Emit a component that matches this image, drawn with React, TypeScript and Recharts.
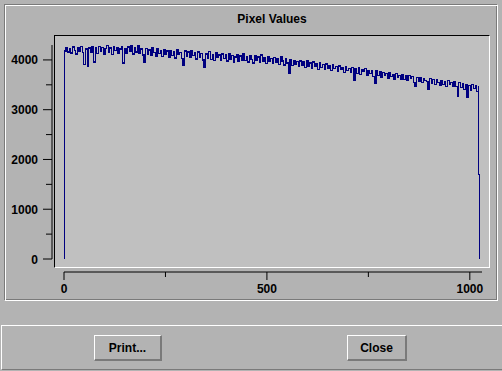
import React from "react";
import { LineChart, Line, XAxis, YAxis } from "recharts";

// pixel profile (one sample every 4 columns)
const leadColumns = [0];
const leadValues = [0];
const sampleStep = 4;
const firstSampleColumn = 1;
const sampleValues = [
  4180, 4250, 4160, 4230, 4140, 4260, 4190, 4120, 4240, 4170, 4270, 4150, 3910, 4220, 3880, 4240,
  4150, 4260, 3960, 4240, 4130, 4270, 4180, 4250, 4120, 4230, 4290, 4160, 4240, 4110, 4260, 4190,
  4250, 4140, 4220, 4270, 3940, 4230, 4130, 4260, 4170, 4300, 4120, 4240, 4160, 4280, 4140, 4220,
  4100, 3960, 4230, 4120, 4200, 4090, 4250, 4150, 4080, 4220, 4130, 4190, 4070, 4210, 4110, 4180,
  4060, 4190, 4090, 4170, 4040, 4200, 4110, 4150, 4030, 3900, 4180, 4070, 4160, 4050, 4190, 4090,
  4140, 4020, 4160, 4060, 4130, 4000, 3840, 4120, 4040, 4170, 4010, 4110, 3990, 4150, 4050, 4100,
  3990, 4120, 4030, 4100, 3980, 4130, 4010, 4090, 3960, 4060, 4110, 3970, 4080, 4000, 4120, 3990,
  4070, 3960, 4090, 4010, 3940, 4080, 3990, 4060, 3950, 4100, 3980, 4040, 3930, 4070, 3970, 4030,
  3940, 4050, 3960, 4030, 3910, 4060, 3980, 3900, 4020, 3940, 3720, 4000, 3890, 3990, 3920, 3970,
  3870, 3980, 3900, 3960, 3850, 3990, 3880, 3940, 3830, 3960, 3860, 3920, 3810, 3950, 3840, 3910,
  3800, 3920, 3830, 3890, 3780, 3910, 3820, 3870, 3760, 3880, 3800, 3850, 3740, 3870, 3790, 3830,
  3740, 3850, 3580, 3820, 3730, 3840, 3700, 3800, 3760, 3820, 3690, 3790, 3720, 3780, 3670, 3520,
  3780, 3680, 3760, 3650, 3750, 3690, 3730, 3620, 3740, 3660, 3710, 3600, 3720, 3650, 3690, 3610,
  3700, 3600, 3680, 3580, 3690, 3620, 3660, 3550, 3460, 3650, 3570, 3640, 3540, 3630, 3590, 3560,
  3400, 3620, 3530, 3600, 3500, 3610, 3540, 3480, 3590, 3510, 3570, 3470, 3580, 3500, 3550, 3460,
  3560, 3470, 3260, 3540, 3450, 3520, 3400, 3510, 3240, 3490, 3380, 3500, 3420, 3480, 3360, 3470,
];
const tailColumns = [1022, 1023];
const tailValues = [1700, 0];

const xTicks = [0, 250, 500, 750, 1000];
const yTicks = [0, 500, 1000, 1500, 2000, 2500, 3000, 3500, 4000];

const profile = [
  ...leadColumns.map((x, i) => ({ x, v: leadValues[i] })),
  ...sampleValues.map((v, i) => ({ x: firstSampleColumn + i * sampleStep, v })),
  ...tailColumns.map((x, i) => ({ x, v: tailValues[i] })),
];

const BG = "#b3b3b3";
const PLOT_BG = "#c0c0c0";
const DARK = "#7a7a7a";
const FONT = "'Liberation Sans', Arial, Helvetica, sans-serif";

const XTick = (props: any) => {
  const { x, y, payload } = props;
  const major = payload.value % 500 === 0;
  return (
    <g transform={`translate(${x},${y + 13})`}>
      <line x1={0} y1={0} x2={0} y2={major ? 8 : 5} stroke="#000" />
      {major && (
        <text x={0} y={20.5} textAnchor="middle" fontSize={12} fontWeight="bold" fontFamily={FONT} fill="#000">
          {payload.value}
        </text>
      )}
    </g>
  );
};

const YTick = (props: any) => {
  const { x, y, payload } = props;
  const major = payload.value % 1000 === 0;
  return (
    <g transform={`translate(${x - 12},${y})`}>
      <line x1={major ? -9 : -6} y1={0} x2={0} y2={0} stroke="#000" />
      {major && (
        <text x={-14} y={4.5} textAnchor="end" fontSize={12} fontWeight="bold" fontFamily={FONT} fill="#000">
          {payload.value}
        </text>
      )}
    </g>
  );
};

const Button = ({ label, left, width }: any) => (
  <div
    style={{
      position: "absolute",
      left,
      top: 335,
      width,
      height: 26,
      boxSizing: "border-box",
      borderTop: "1px solid #fff",
      borderLeft: "1px solid #fff",
      borderRight: `2px solid ${DARK}`,
      borderBottom: `2px solid ${DARK}`,
      display: "flex",
      alignItems: "center",
      justifyContent: "center",
      fontSize: 12,
      fontWeight: "bold",
    }}
  >
    {label}
  </div>
);

export default function App() {
  return (
    <div
      style={{
        position: "absolute",
        left: 0,
        top: 0,
        width: 502,
        height: 371,
        background: BG,
        fontFamily: FONT,
        overflow: "hidden",
      }}
    >
      {/* etched frame around the graph */}
      <div
        style={{
          position: "absolute",
          left: 4,
          top: 4,
          width: 494,
          height: 297,
          boxSizing: "border-box",
          borderTop: `1px solid ${DARK}`,
          borderLeft: `1px solid ${DARK}`,
          borderRight: "1px solid #fff",
          borderBottom: "1px solid #fff",
          boxShadow: `inset 1px 1px 0 #fff, inset -1px -1px 0 ${DARK}`,
        }}
      />
      <div
        style={{
          position: "absolute",
          left: 54,
          top: 12,
          width: 436,
          textAlign: "center",
          fontSize: 12,
          fontWeight: "bold",
        }}
      >
        Pixel Values
      </div>
      {/* sunken plot box */}
      <div
        style={{
          position: "absolute",
          left: 54,
          top: 35,
          width: 436,
          height: 233,
          boxSizing: "border-box",
          background: PLOT_BG,
          borderTop: "1px solid #000",
          borderLeft: "1px solid #000",
          borderRight: "1px solid #fff",
          borderBottom: "1px solid #fff",
        }}
      />
      <div style={{ position: "absolute", left: 0, top: 0 }}>
        <LineChart
          width={502}
          height={300}
          data={profile}
          margin={{ top: 45, right: 20, bottom: 11, left: 24 }}
        >
          <XAxis
            type="number"
            dataKey="x"
            domain={[0, 1030]}
            ticks={xTicks}
            allowDataOverflow
            height={30}
            tickSize={0}
            tickMargin={0}
            tickLine={false}
            axisLine={{ stroke: "#000", transform: "translate(0,13)" }}
            tick={<XTick />}
          />
          <YAxis
            type="number"
            domain={[0, 4300]}
            ticks={yTicks}
            allowDataOverflow
            width={40}
            tickSize={0}
            tickMargin={0}
            tickLine={false}
            axisLine={{ stroke: "#000", transform: "translate(-12,0)" }}
            tick={<YTick />}
          />
          <Line
            type="stepAfter"
            dataKey="v"
            stroke="#000080"
            strokeWidth={1.2}
            shapeRendering="crispEdges"
            dot={false}
            isAnimationActive={false}
          />
        </LineChart>
      </div>
      {/* button bar */}
      <div
        style={{
          position: "absolute",
          left: 1,
          top: 325,
          width: 501,
          height: 45,
          boxSizing: "border-box",
          borderTop: "1px solid #fff",
          borderLeft: "1px solid #fff",
          borderBottom: `1px solid ${DARK}`,
        }}
      />
      <Button label="Print..." left={94} width={68} />
      <Button label="Close" left={347} width={60} />
    </div>
  );
}
